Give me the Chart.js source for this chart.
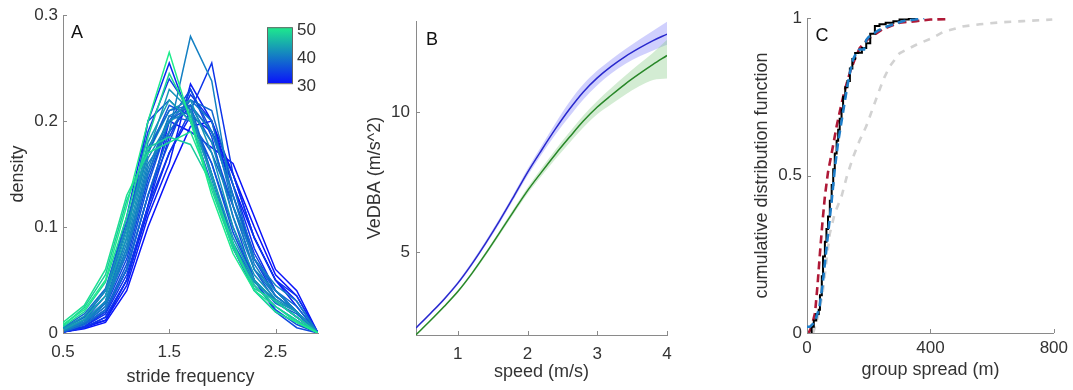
<!DOCTYPE html>
<html>
<head>
<meta charset="utf-8">
<script src="https://cdn.jsdelivr.net/npm/chart.js@4.4.1/dist/chart.umd.min.js"></script>
<style>
  html, body { margin: 0; padding: 0; background: #fff; }
  #wrap { position: relative; width: 1073px; height: 390px; overflow: hidden; }
  canvas { position: absolute; top: 0; }
</style>
</head>
<body>
<div id="wrap">
  <canvas id="chartA" width="340" height="390" style="left:0px"></canvas>
  <canvas id="chartB" width="345" height="390" style="left:345px"></canvas>
  <canvas id="chartC" width="333" height="390" style="left:740px"></canvas>
</div>
<script>
// ---- panel A: stride frequency densities, coloured by value 30..50
var strideFreq = [0.5, 0.7, 0.9, 1.1, 1.3, 1.5, 1.7, 1.9, 2.1, 2.3, 2.5, 2.7, 2.9];
var curveValues = [50, 48, 47, 49, 42, 43, 38, 36, 42, 41, 40, 40, 39, 38, 37, 36, 35, 35, 34, 33, 33, 32, 32, 31, 31, 30, 30, 36];
var densityCurves = [
  [0.008, 0.022, 0.05, 0.12, 0.2, 0.265, 0.2, 0.13, 0.075, 0.04, 0.02, 0.01, 0],
  [0.006, 0.02, 0.048, 0.11, 0.185, 0.245, 0.205, 0.135, 0.08, 0.045, 0.025, 0.012, 0],
  [0.007, 0.024, 0.055, 0.125, 0.175, 0.185, 0.178, 0.14, 0.08, 0.042, 0.03, 0.015, 0],
  [0.01, 0.026, 0.06, 0.13, 0.17, 0.18, 0.19, 0.14, 0.085, 0.04, 0.025, 0.01, 0],
  [0.004, 0.016, 0.04, 0.1, 0.17, 0.23, 0.21, 0.145, 0.082, 0.048, 0.03, 0.02, 0],
  [0.003, 0.013, 0.035, 0.095, 0.18, 0.22, 0.2, 0.15, 0.09, 0.05, 0.03, 0.015, 0],
  [0.005, 0.018, 0.042, 0.105, 0.175, 0.21, 0.215, 0.15, 0.085, 0.05, 0.028, 0.018, 0],
  [0.005, 0.015, 0.04, 0.1, 0.17, 0.215, 0.205, 0.16, 0.095, 0.05, 0.03, 0.015, 0],
  [0.004, 0.015, 0.035, 0.09, 0.17, 0.21, 0.22, 0.17, 0.1, 0.055, 0.032, 0.02, 0],
  [0.003, 0.012, 0.03, 0.085, 0.165, 0.2, 0.21, 0.18, 0.11, 0.06, 0.04, 0.02, 0],
  [0.002, 0.01, 0.025, 0.08, 0.16, 0.19, 0.28, 0.238, 0.12, 0.07, 0.045, 0.03, 0],
  [0.002, 0.01, 0.03, 0.08, 0.155, 0.205, 0.215, 0.19, 0.13, 0.065, 0.035, 0.02, 0],
  [0.002, 0.01, 0.028, 0.075, 0.15, 0.2, 0.22, 0.2, 0.12, 0.06, 0.035, 0.02, 0],
  [0.001, 0.008, 0.022, 0.06, 0.13, 0.19, 0.22, 0.21, 0.14, 0.07, 0.04, 0.025, 0],
  [0.003, 0.01, 0.028, 0.075, 0.15, 0.205, 0.2, 0.17, 0.12, 0.07, 0.04, 0.02, 0],
  [0.002, 0.008, 0.022, 0.065, 0.14, 0.2, 0.215, 0.18, 0.12, 0.06, 0.03, 0.015, 0],
  [0.002, 0.008, 0.02, 0.06, 0.13, 0.18, 0.23, 0.19, 0.13, 0.075, 0.04, 0.02, 0],
  [0.002, 0.009, 0.025, 0.07, 0.145, 0.2, 0.23, 0.185, 0.11, 0.05, 0.02, 0.005, 0],
  [0.003, 0.012, 0.035, 0.1, 0.19, 0.24, 0.21, 0.15, 0.085, 0.045, 0.025, 0.012, 0],
  [0.001, 0.005, 0.015, 0.05, 0.12, 0.17, 0.21, 0.255, 0.15, 0.09, 0.05, 0.035, 0],
  [0.001, 0.006, 0.018, 0.055, 0.12, 0.185, 0.225, 0.2, 0.13, 0.07, 0.035, 0.02, 0],
  [0.004, 0.015, 0.04, 0.11, 0.2, 0.255, 0.2, 0.14, 0.08, 0.04, 0.02, 0.01, 0],
  [0.001, 0.006, 0.02, 0.06, 0.13, 0.19, 0.215, 0.19, 0.14, 0.08, 0.04, 0.02, 0],
  [0.001, 0.005, 0.012, 0.045, 0.11, 0.16, 0.235, 0.2, 0.14, 0.09, 0.05, 0.03, 0],
  [0.001, 0.005, 0.015, 0.05, 0.115, 0.17, 0.205, 0.19, 0.15, 0.09, 0.05, 0.025, 0],
  [0.001, 0.004, 0.01, 0.04, 0.1, 0.15, 0.195, 0.2, 0.15, 0.1, 0.055, 0.035, 0],
  [0.002, 0.006, 0.012, 0.05, 0.12, 0.2, 0.19, 0.175, 0.16, 0.11, 0.06, 0.04, 0],
  [0.002, 0.01, 0.03, 0.09, 0.2, 0.22, 0.2, 0.16, 0.1, 0.05, 0.022, 0.008, 0]
];
var aXTicks = [0.5, 1.5, 2.5];
var aXLabels = ['0.5', '1.5', '2.5'];
var aYTicks = [0, 0.1, 0.2, 0.3];
var aYLabels = ['0', '0.1', '0.2', '0.3'];
var colorbarTicks = [50, 40, 30];

// ---- panel B: VeDBA vs speed, two fitted curves with bands
var speeds = [0.4, 0.6, 0.8, 1.0, 1.2, 1.4, 1.6, 1.8, 2.0, 2.2, 2.4, 2.6, 2.8, 3.0, 3.2, 3.4, 3.6, 3.8, 4.0];
var blueMean  = [2.30, 2.80, 3.32, 3.90, 4.58, 5.33, 6.13, 6.98, 7.85, 8.64, 9.40, 10.10, 10.72, 11.22, 11.63, 11.98, 12.28, 12.55, 12.78];
var blueUpper = [2.34, 2.84, 3.37, 3.96, 4.65, 5.41, 6.22, 7.08, 7.97, 8.79, 9.60, 10.36, 10.99, 11.48, 11.88, 12.24, 12.58, 12.90, 13.22];
var blueLower = [2.26, 2.76, 3.27, 3.84, 4.51, 5.25, 6.04, 6.88, 7.73, 8.49, 9.20, 9.84, 10.45, 10.96, 11.38, 11.72, 11.98, 12.20, 12.40];
var greenMean  = [2.06, 2.55, 3.06, 3.60, 4.24, 4.95, 5.70, 6.46, 7.20, 7.86, 8.50, 9.10, 9.68, 10.18, 10.60, 11.00, 11.36, 11.70, 12.02];
var greenUpper = [2.09, 2.58, 3.10, 3.65, 4.30, 5.02, 5.78, 6.55, 7.31, 8.00, 8.66, 9.28, 9.88, 10.40, 10.86, 11.30, 11.72, 12.12, 12.58];
var greenLower = [2.03, 2.52, 3.02, 3.55, 4.18, 4.88, 5.62, 6.37, 7.09, 7.72, 8.33, 8.90, 9.45, 9.92, 10.28, 10.62, 10.92, 11.15, 11.20];
var bXTicks = [1, 2, 3, 4];
var bXLabels = ['1', '2', '3', '4'];
var bYTicks = [5, 10];
var bYLabels = ['5', '10'];

// ---- panel C: cumulative distributions of group spread
var blackX = [15, 22, 30, 38, 42, 48, 52, 58, 63, 68, 74, 80, 85, 90, 96, 101, 106, 112, 117, 124, 131, 139, 147, 156, 166, 178, 192, 205, 220, 235, 255, 280, 300, 330, 354];
var blackY = [0, 0.02, 0.04, 0.06, 0.074, 0.12, 0.18, 0.243, 0.29, 0.33, 0.37, 0.42, 0.47, 0.52, 0.57, 0.61, 0.645, 0.68, 0.71, 0.75, 0.78, 0.8, 0.84, 0.87, 0.889, 0.89, 0.905, 0.92, 0.95, 0.975, 0.98, 0.985, 0.99, 0.995, 1.0];
var blueX = [0, 10, 20, 30, 40, 50, 60, 70, 80, 90, 100, 110, 120, 130, 140, 150, 160, 170, 185, 192, 200, 215, 230, 250, 280, 310, 350, 380];
var blueY = [0.02, 0.02, 0.03, 0.05, 0.08, 0.15, 0.24, 0.33, 0.42, 0.52, 0.6, 0.66, 0.72, 0.78, 0.83, 0.87, 0.89, 0.9, 0.9, 0.93, 0.94, 0.95, 0.96, 0.97, 0.98, 0.99, 0.995, 1.0];
var redX = [5, 15, 26, 34, 42, 50, 58, 68, 80, 96, 110, 125, 140, 155, 171, 200, 246, 300, 354, 400, 461];
var redY = [0, 0.02, 0.063, 0.15, 0.254, 0.35, 0.434, 0.51, 0.571, 0.656, 0.72, 0.78, 0.83, 0.87, 0.905, 0.935, 0.965, 0.985, 0.99, 0.995, 0.997];
var grayX = [20, 35, 50, 62, 74, 90, 112, 130, 150, 170, 192, 212, 235, 250, 268, 300, 354, 407, 440, 504, 560, 623, 700, 795];
var grayY = [0, 0.05, 0.12, 0.22, 0.316, 0.38, 0.434, 0.5, 0.56, 0.61, 0.656, 0.71, 0.772, 0.81, 0.846, 0.888, 0.915, 0.937, 0.955, 0.973, 0.98, 0.986, 0.99, 0.995];
var cXTicks = [0, 400, 800];
var cXLabels = ['0', '400', '800'];
var cYTicks = [0, 0.5, 1];
var cYLabels = ['0', '0.5', '1'];

var textColor = '#333333';
var axisColor = '#8a8a8a';
Chart.defaults.font.family = "'Liberation Sans', Arial, sans-serif";
Chart.defaults.color = textColor;

function valueColor(v) {
  var t = (v - 30) / 20;
  var r = Math.round(10 + 20 * t), g = Math.round(20 + 215 * t), b = Math.round(250 - 110 * t);
  return 'rgb(' + r + ',' + g + ',' + b + ')';
}

function toPoints(xs, ys) {
  return xs.map(function (x, i) { return { x: x, y: ys[i] }; });
}

function makeAxis(o) {
  return {
    type: 'linear', min: o.min, max: o.max,
    grid: { display: true, drawOnChartArea: false, drawTicks: false },
    border: { display: true, color: axisColor, width: 1 },
    ticks: {
      padding: o.pad, color: textColor, font: { size: 17 }, maxRotation: 0,
      callback: function (v, i) { return o.labels[i]; }
    },
    title: { display: true, text: o.title, color: textColor, font: { size: 18 }, padding: o.titlePad },
    afterBuildTicks: function (s) { s.ticks = o.ticks.map(function (v) { return { value: v }; }); },
    afterFit: function (s) {
      if (o.width) s.width = o.width;
      if (o.height) s.height = o.height;
    }
  };
}

// small inward tick marks, MATLAB style
var inTicks = {
  id: 'inTicks',
  afterDraw: function (chart) {
    var ctx = chart.ctx, a = chart.chartArea;
    var sx = chart.scales.x, sy = chart.scales.y;
    ctx.save();
    ctx.strokeStyle = axisColor;
    ctx.lineWidth = 1;
    sx.ticks.forEach(function (t) {
      var p = Math.round(sx.getPixelForValue(t.value)) + 0.5;
      ctx.beginPath(); ctx.moveTo(p, a.bottom); ctx.lineTo(p, a.bottom - 4); ctx.stroke();
    });
    sy.ticks.forEach(function (t) {
      var p = Math.round(sy.getPixelForValue(t.value)) + 0.5;
      ctx.beginPath(); ctx.moveTo(a.left, p); ctx.lineTo(a.left + 4, p); ctx.stroke();
    });
    ctx.restore();
  }
};

function panelLetter(letter, dx, dy) {
  return {
    id: 'letter' + letter,
    afterDraw: function (chart) {
      var ctx = chart.ctx, a = chart.chartArea;
      ctx.save();
      ctx.fillStyle = '#111';
      ctx.font = "18px 'Liberation Sans', Arial, sans-serif";
      ctx.textAlign = 'center';
      ctx.textBaseline = 'middle';
      ctx.fillText(letter, a.left + dx, a.top + dy);
      ctx.restore();
    }
  };
}

var colorbar = {
  id: 'colorbar',
  afterDraw: function (chart) {
    var ctx = chart.ctx, a = chart.chartArea;
    var x0 = a.left + 204, y0 = a.top + 12, w = 25, h = 56;
    var grad = ctx.createLinearGradient(0, y0 + h, 0, y0);
    grad.addColorStop(0, valueColor(30));
    grad.addColorStop(0.5, valueColor(40));
    grad.addColorStop(1, valueColor(50));
    ctx.save();
    ctx.fillStyle = grad;
    ctx.fillRect(x0, y0, w, h);
    ctx.strokeStyle = '#666';
    ctx.lineWidth = 1;
    ctx.strokeRect(x0 + 0.5, y0 + 0.5, w, h);
    ctx.fillStyle = textColor;
    ctx.font = "17px 'Liberation Sans', Arial, sans-serif";
    ctx.textAlign = 'left';
    ctx.textBaseline = 'middle';
    colorbarTicks.forEach(function (v) {
      var yy = y0 + h - (v - 30) / 20 * h;
      ctx.fillText(String(v), x0 + w + 5, yy + 3);
    });
    ctx.restore();
  }
};

var baseOpts = {
  responsive: false,
  animation: false,
  devicePixelRatio: 1,
  plugins: { legend: { display: false }, tooltip: { enabled: false } },
  elements: { point: { radius: 0 } }
};

// ---------- panel A
new Chart(document.getElementById('chartA').getContext('2d'), {
  type: 'line',
  data: {
    datasets: densityCurves.map(function (c, i) {
      return {
        data: toPoints(strideFreq, c),
        borderColor: valueColor(curveValues[i]),
        borderWidth: 1.5,
        tension: 0,
        fill: false
      };
    })
  },
  options: Object.assign({}, baseOpts, {
    layout: { padding: { left: 0, top: 15, right: 22, bottom: 0 } },
    scales: {
      x: makeAxis({ min: 0.5, max: 2.9, ticks: aXTicks, labels: aXLabels, title: 'stride frequency', pad: 9, titlePad: { top: 0, bottom: 2 }, height: 57 }),
      y: makeAxis({ min: 0, max: 0.3, ticks: aYTicks, labels: aYLabels, title: 'density', pad: 5, titlePad: { top: 7, bottom: 0 }, width: 63 })
    }
  }),
  plugins: [inTicks, panelLetter('A', 14, 18), colorbar]
});

// ---------- panel B
new Chart(document.getElementById('chartB').getContext('2d'), {
  type: 'line',
  data: {
    datasets: [
      { data: toPoints(speeds, blueMean), borderColor: 'rgb(40,40,205)', borderWidth: 1.5, cubicInterpolationMode: 'monotone', fill: false, order: 0 },
      { data: toPoints(speeds, greenMean), borderColor: 'rgb(40,135,40)', borderWidth: 1.5, cubicInterpolationMode: 'monotone', fill: false, order: 0 },
      { data: toPoints(speeds, blueUpper), borderWidth: 0, borderColor: 'rgba(0,0,0,0)', backgroundColor: 'rgba(120,120,250,0.35)', cubicInterpolationMode: 'monotone', fill: '+1', order: 2 },
      { data: toPoints(speeds, blueLower), borderWidth: 0, borderColor: 'rgba(0,0,0,0)', cubicInterpolationMode: 'monotone', fill: false, order: 2 },
      { data: toPoints(speeds, greenUpper), borderWidth: 0, borderColor: 'rgba(0,0,0,0)', backgroundColor: 'rgba(130,200,130,0.35)', cubicInterpolationMode: 'monotone', fill: '+1', order: 1 },
      { data: toPoints(speeds, greenLower), borderWidth: 0, borderColor: 'rgba(0,0,0,0)', cubicInterpolationMode: 'monotone', fill: false, order: 1 }
    ]
  },
  options: Object.assign({}, baseOpts, {
    layout: { padding: { left: 0, top: 21, right: 23, bottom: 0 } },
    scales: {
      x: makeAxis({ min: 0.4, max: 4, ticks: bXTicks, labels: bXLabels, title: 'speed (m/s)', pad: 9, titlePad: { top: 0, bottom: 7 }, height: 55 }),
      y: makeAxis({ min: 2.05, max: 13.25, ticks: bYTicks, labels: bYLabels, title: 'VeDBA (m/s^2)', pad: 6, titlePad: { top: 19, bottom: 0 }, width: 71 })
    }
  }),
  plugins: [inTicks, panelLetter('B', 16, 19)]
});

// ---------- panel C
new Chart(document.getElementById('chartC').getContext('2d'), {
  type: 'line',
  data: {
    datasets: [
      { data: toPoints(blueX, blueY), borderColor: 'rgb(30,125,200)', borderWidth: 2.6, borderDash: [8, 5], tension: 0, fill: false, order: 0 },
      { data: toPoints(blackX, blackY), borderColor: '#000', borderWidth: 2, stepped: 'after', fill: false, order: 1 },
      { data: toPoints(redX, redY), borderColor: 'rgb(175,25,55)', borderWidth: 2.6, borderDash: [8, 5], tension: 0, fill: false, order: 2 },
      { data: toPoints(grayX, grayY), borderColor: 'rgb(210,210,210)', borderWidth: 2.6, borderDash: [7, 7], tension: 0, fill: false, order: 3 }
    ]
  },
  options: Object.assign({}, baseOpts, {
    layout: { padding: { left: 0, top: 18, right: 18, bottom: 0 } },
    scales: {
      x: makeAxis({ min: 0, max: 800, ticks: cXTicks, labels: cXLabels, title: 'group spread (m)', pad: 5, titlePad: { top: 0, bottom: 9 }, height: 57 }),
      y: makeAxis({ min: 0, max: 1, ticks: cYTicks, labels: cYLabels, title: 'cumulative distribution function', pad: 5, titlePad: { top: 11, bottom: 0 }, width: 67 })
    }
  }),
  plugins: [inTicks, panelLetter('C', 15, 18)]
});
</script>
</body>
</html>
